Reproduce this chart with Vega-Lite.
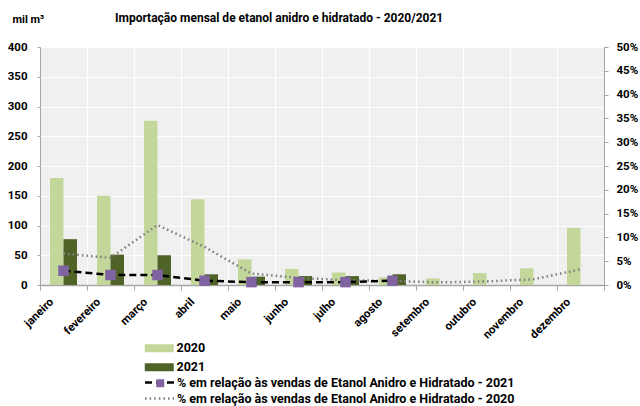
{
  "$schema": "https://vega.github.io/schema/vega-lite/v6.json",
  "autosize": {"type": "none"},
  "padding": {"left": 40, "top": 47, "right": 36, "bottom": 121},
  "width": 564,
  "height": 238,
  "background": "white",
  "config": {
    "font": "Roboto",
    "view": {"stroke": null, "fill": "#f0f0f0"},
    "axis": {"labelFont": "Roboto", "labelFontWeight": "bold", "labelFontSize": 11.5, "labelColor": "#000000", "domainColor": "#a6a6a6", "tickColor": "#a6a6a6", "gridColor": "#ffffff", "gridWidth": 1.2},
    "legend": {"labelFont": "Roboto", "labelFontSize": 12.5, "labelFontWeight": "bold", "labelColor": "#000000", "labelLimit": 500, "padding": 0, "rowPadding": 2}
  },
  "title": {"text": "Importação mensal de etanol  anidro e hidratado - 2020/2021", "anchor": "start", "frame": "group", "dx": 75, "offset": -12, "font": "Roboto", "fontSize": 12, "fontWeight": "bold", "color": "#000000"},
  "datasets": {
    "bars": [
      {"mes": "janeiro", "serie": "2020", "valor": 180},
      {"mes": "fevereiro", "serie": "2020", "valor": 150},
      {"mes": "março", "serie": "2020", "valor": 276},
      {"mes": "abril", "serie": "2020", "valor": 144},
      {"mes": "maio", "serie": "2020", "valor": 43},
      {"mes": "junho", "serie": "2020", "valor": 27},
      {"mes": "julho", "serie": "2020", "valor": 21},
      {"mes": "agosto", "serie": "2020", "valor": 13},
      {"mes": "setembro", "serie": "2020", "valor": 11},
      {"mes": "outubro", "serie": "2020", "valor": 20},
      {"mes": "novembro", "serie": "2020", "valor": 28},
      {"mes": "dezembro", "serie": "2020", "valor": 96},
      {"mes": "janeiro", "serie": "2021", "valor": 77},
      {"mes": "fevereiro", "serie": "2021", "valor": 51},
      {"mes": "março", "serie": "2021", "valor": 50},
      {"mes": "abril", "serie": "2021", "valor": 18},
      {"mes": "maio", "serie": "2021", "valor": 14},
      {"mes": "junho", "serie": "2021", "valor": 15},
      {"mes": "julho", "serie": "2021", "valor": 15},
      {"mes": "agosto", "serie": "2021", "valor": 18}
    ],
    "pct": [
      {"mes": "janeiro", "serie": "% em relação às vendas de Etanol Anidro e Hidratado - 2020", "pct": 6.6},
      {"mes": "fevereiro", "serie": "% em relação às vendas de Etanol Anidro e Hidratado - 2020", "pct": 5.7},
      {"mes": "março", "serie": "% em relação às vendas de Etanol Anidro e Hidratado - 2020", "pct": 12.6},
      {"mes": "abril", "serie": "% em relação às vendas de Etanol Anidro e Hidratado - 2020", "pct": 8.0},
      {"mes": "maio", "serie": "% em relação às vendas de Etanol Anidro e Hidratado - 2020", "pct": 2.4},
      {"mes": "junho", "serie": "% em relação às vendas de Etanol Anidro e Hidratado - 2020", "pct": 1.5},
      {"mes": "julho", "serie": "% em relação às vendas de Etanol Anidro e Hidratado - 2020", "pct": 1.0},
      {"mes": "agosto", "serie": "% em relação às vendas de Etanol Anidro e Hidratado - 2020", "pct": 0.85},
      {"mes": "setembro", "serie": "% em relação às vendas de Etanol Anidro e Hidratado - 2020", "pct": 0.55},
      {"mes": "outubro", "serie": "% em relação às vendas de Etanol Anidro e Hidratado - 2020", "pct": 0.75},
      {"mes": "novembro", "serie": "% em relação às vendas de Etanol Anidro e Hidratado - 2020", "pct": 1.2},
      {"mes": "dezembro", "serie": "% em relação às vendas de Etanol Anidro e Hidratado - 2020", "pct": 3.3},
      {"mes": "janeiro", "serie": "% em relação às vendas de Etanol Anidro e Hidratado - 2021", "pct": 3.0},
      {"mes": "fevereiro", "serie": "% em relação às vendas de Etanol Anidro e Hidratado - 2021", "pct": 2.1},
      {"mes": "março", "serie": "% em relação às vendas de Etanol Anidro e Hidratado - 2021", "pct": 2.1},
      {"mes": "abril", "serie": "% em relação às vendas de Etanol Anidro e Hidratado - 2021", "pct": 0.9},
      {"mes": "maio", "serie": "% em relação às vendas de Etanol Anidro e Hidratado - 2021", "pct": 0.6},
      {"mes": "junho", "serie": "% em relação às vendas de Etanol Anidro e Hidratado - 2021", "pct": 0.6},
      {"mes": "julho", "serie": "% em relação às vendas de Etanol Anidro e Hidratado - 2021", "pct": 0.6},
      {"mes": "agosto", "serie": "% em relação às vendas de Etanol Anidro e Hidratado - 2021", "pct": 0.9}
    ]
  },
  "encoding": {
    "x": {
      "field": "mes", "type": "nominal",
      "sort": ["janeiro", "fevereiro", "março", "abril", "maio", "junho", "julho", "agosto", "setembro", "outubro", "novembro", "dezembro"],
      "scale": {"domain": ["janeiro", "fevereiro", "março", "abril", "maio", "junho", "julho", "agosto", "setembro", "outubro", "novembro", "dezembro"], "paddingInner": 0, "paddingOuter": 0},
      "axis": {"title": null, "labelAngle": -45, "labelAlign": "right", "labelBaseline": "middle", "labelPadding": 10, "labelOffset": -12, "tickBand": "extent", "grid": true, "tickSize": 5, "domainWidth": 1.5, "labelOverlap": false}
    }
  },
  "layer": [
    {
      "data": {"name": "bars"},
      "mark": {"type": "bar"},
      "encoding": {
        "xOffset": {"field": "serie", "type": "nominal", "scale": {"domain": ["2020", "2021"], "paddingInner": 0, "paddingOuter": 0.74}},
        "y": {
          "field": "valor", "type": "quantitative",
          "scale": {"domain": [0, 400], "nice": false},
          "axis": {"title": "mil m³", "titleAngle": 0, "titleAlign": "left", "titleBaseline": "alphabetic", "titleX": -28, "titleY": -25, "titleFont": "Roboto", "titleFontSize": 11, "titleFontWeight": "bold", "titleColor": "#000000", "values": [0, 50, 100, 150, 200, 250, 300, 350, 400], "tickSize": 3, "labelPadding": 10, "grid": true, "labelOverlap": false}
        },
        "color": {
          "field": "serie", "type": "nominal",
          "scale": {"domain": ["2020", "2021"], "range": ["#c4d79b", "#4f6228"]},
          "legend": {"title": null, "orient": "none", "legendX": 113, "legendY": 295, "direction": "vertical", "symbolSize": 100, "symbolType": "M-2.9,-0.8H2.9V0.8H-2.9Z", "labelOffset": 11, "rowPadding": 6}
        }
      }
    },
    {
      "data": {"name": "pct"},
      "encoding": {
        "y": {
          "field": "pct", "type": "quantitative",
          "scale": {"domain": [0, 50], "nice": false},
          "axis": {"orient": "right", "title": null, "values": [0, 5, 10, 15, 20, 25, 30, 35, 40, 45, 50], "labelExpr": "datum.value + '%'", "grid": false, "tickSize": 4, "labelPadding": 8, "labelOverlap": false}
        }
      },
      "layer": [
        {
          "mark": {"type": "line", "strokeWidth": 2.5},
          "encoding": {
            "stroke": {
              "field": "serie", "type": "nominal",
              "scale": {"domain": ["% em relação às vendas de Etanol Anidro e Hidratado - 2021", "% em relação às vendas de Etanol Anidro e Hidratado - 2020"], "range": ["#000000", "#808080"]},
              "legend": {"title": null, "orient": "none", "legendX": 113, "legendY": 329, "direction": "vertical", "symbolSize": 100, "symbolType": "M-2.9,0H2.9", "symbolStrokeWidth": 2.5, "labelOffset": 11, "rowPadding": 3}
            },
            "strokeDash": {
              "field": "serie", "type": "nominal",
              "scale": {"domain": ["% em relação às vendas de Etanol Anidro e Hidratado - 2021", "% em relação às vendas de Etanol Anidro e Hidratado - 2020"], "range": [[7, 4], [1.6, 3]]},
              "legend": {"title": null, "orient": "none", "legendX": 113, "legendY": 329, "direction": "vertical", "symbolSize": 100, "symbolType": "M-2.9,0H2.9", "symbolStrokeWidth": 2.5, "labelOffset": 11, "rowPadding": 3}
            }
          }
        },
        {
          "transform": [{"filter": "indexof(datum.serie, '- 2021') >= 0"}],
          "mark": {"type": "point", "filled": true, "size": 110, "color": "#8064a2", "opacity": 1},
          "encoding": {
            "shape": {
              "field": "serie", "type": "nominal",
              "scale": {"domain": ["% em relação às vendas de Etanol Anidro e Hidratado - 2021"], "range": ["square"]},
              "legend": {"title": null, "orient": "none", "legendX": 114, "legendY": 330, "direction": "vertical", "symbolSize": 64, "symbolFillColor": "#8064a2", "symbolStrokeColor": "#8064a2", "symbolOpacity": 1, "labelExpr": "''"}
            }
          }
        }
      ]
    }
  ],
  "resolve": {"scale": {"y": "independent"}}
}
